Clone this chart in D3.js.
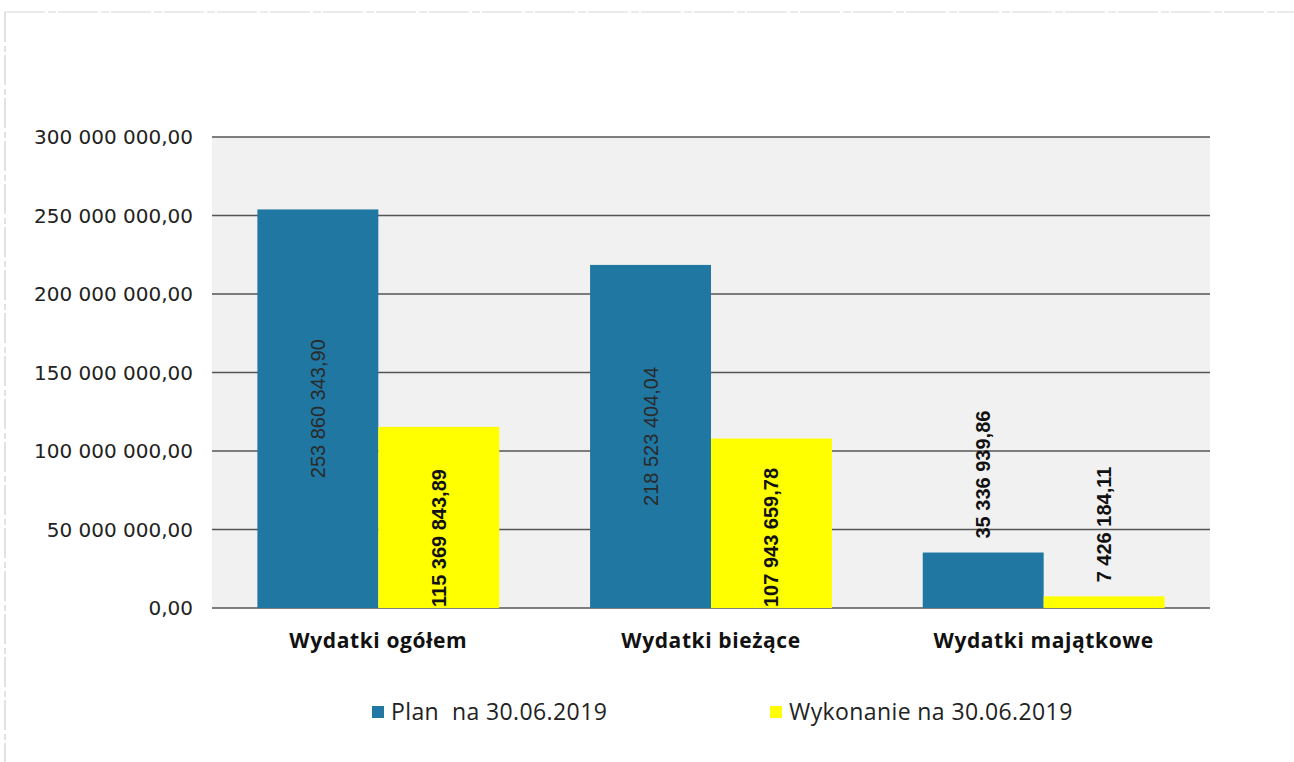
<!DOCTYPE html>
<html>
<head>
<meta charset="utf-8">
<script src="https://cdn.jsdelivr.net/npm/d3@7"></script>
<style>
  body { margin: 0; background: #fff; }
</style>
</head>
<body>
<div id="chart"></div>
<script>
const categories = ['Wydatki ogółem', 'Wydatki bieżące', 'Wydatki majątkowe']
const series = ['Plan  na 30.06.2019', 'Wykonanie na 30.06.2019']
const planValues = [253860343.90, 218523404.04, 35336939.86]
const wykonanieValues = [115369843.89, 107943659.78, 7426184.11]
const yTicks = [0, 50000000, 100000000, 150000000, 200000000, 250000000, 300000000]
const colors = ['#1f77a2', '#ffff00']

const S = { w: 1294, h: 762 }
const margin = { top: 137, right: 84, bottom: 154, left: 212 }
const W = S.w - margin.left - margin.right
const H = S.h - margin.top - margin.bottom

const pl = d3.formatLocale({ decimal: ',', thousands: '\u00a0', grouping: [3], currency: ['', ''] })
const fmt = pl.format(',.2f')

const svg = d3.select('#chart').append('svg')
  .attr('width', S.w).attr('height', S.h)

// scan-like frame
svg.append('line').attr('x1', 5).attr('x2', S.w).attr('y1', 12).attr('y2', 12)
  .attr('stroke', '#d8d8d8').attr('stroke-width', 1.2).attr('stroke-dasharray', '40 3 8 2')
svg.append('line').attr('x1', 5).attr('x2', 5).attr('y1', 12).attr('y2', S.h)
  .attr('stroke', '#c4c4c4').attr('stroke-width', 1).attr('stroke-dasharray', '30 4 6 3')

const g = svg.append('g').attr('transform', `translate(${margin.left},${margin.top})`)

const x0 = d3.scaleBand().domain(categories).range([0, W]).paddingInner(0.273).paddingOuter(0.1365)
const x1 = d3.scaleBand().domain([0, 1]).range([0, x0.bandwidth()])
const y = d3.scaleLinear().domain([0, 300000000]).range([H, 0])

// plot background
g.append('rect').attr('x', 0).attr('y', 0).attr('width', W).attr('height', H).attr('fill', '#f1f1f1')

// gridlines
g.selectAll('.grid').data(yTicks).join('line')
  .attr('x1', 0).attr('x2', W)
  .attr('y1', d => y(d)).attr('y2', d => y(d))
  .attr('stroke', '#555').attr('stroke-width', 1.6)

// y tick labels
g.selectAll('.ytick').data(yTicks).join('text')
  .attr('x', -19).attr('y', d => y(d)).attr('dy', '0.35em')
  .attr('text-anchor', 'end')
  .style('font-family', 'DejaVu Sans, sans-serif').style('font-size', '20px')
  .attr('fill', '#222')
  .text(d => fmt(d))

const rows = categories.map((c, i) => ({ c, vals: [planValues[i], wykonanieValues[i]] }))

const grp = g.selectAll('.grp').data(rows).join('g')
  .attr('transform', d => `translate(${x0(d.c)},0)`)

grp.selectAll('rect').data(d => d.vals).join('rect')
  .attr('x', (d, i) => x1(i)).attr('width', x1.bandwidth())
  .attr('y', d => y(d)).attr('height', d => H - y(d))
  .attr('fill', (d, i) => colors[i])

// value labels (rotated)
grp.selectAll('.lbl').data(d => d.vals).join('text')
  .each(function (d, i) {
    const cx = x1(i) + x1.bandwidth() / 2
    const barH = H - y(d)
    let ly, anchor
    if (i === 1 && barH > 100) { ly = H - 1; anchor = 'start' }
    else if (barH > 200) { ly = y(d) + barH / 2; anchor = 'middle' }
    else { ly = y(d) - 14; anchor = 'start' }
    d3.select(this)
      .attr('transform', `translate(${cx + 7},${ly}) rotate(-90)`)
      .attr('text-anchor', anchor)
      .style('font-weight', (i === 0 && barH > 200) ? 400 : 700)
      .attr('fill', (i === 0 && barH > 200) ? '#2a2a2a' : '#111')
  })
  .style('font-family', 'Liberation Sans, sans-serif')
  .style('font-size', '20px')
  .text(d => fmt(d))

// category labels
g.selectAll('.cat').data(categories).join('text')
  .attr('x', d => x0(d) + x0.bandwidth() / 2).attr('y', H + 40)
  .attr('text-anchor', 'middle')
  .style('font-family', 'Open Sans, sans-serif').style('font-size', '21px').style('font-weight', 700)
  .style('letter-spacing', '0.6px')
  .attr('fill', '#111')
  .text(d => d)

// legend
const legendX = [372, 770]
const lg = svg.selectAll('.leg').data(series).join('g')
  .attr('transform', (d, i) => `translate(${legendX[i]},706)`)
lg.append('rect').attr('width', 12).attr('height', 12).attr('fill', (d, i) => colors[i])
lg.append('text').attr('x', 19).attr('y', 6).attr('dy', '0.36em')
  .style('font-family', 'Open Sans, sans-serif').style('font-size', '23px')
  .style('letter-spacing', '0.4px')
  .style('white-space', 'pre').attr('xml:space', 'preserve')
  .attr('fill', '#222')
  .text(d => d)
</script>
</body>
</html>
